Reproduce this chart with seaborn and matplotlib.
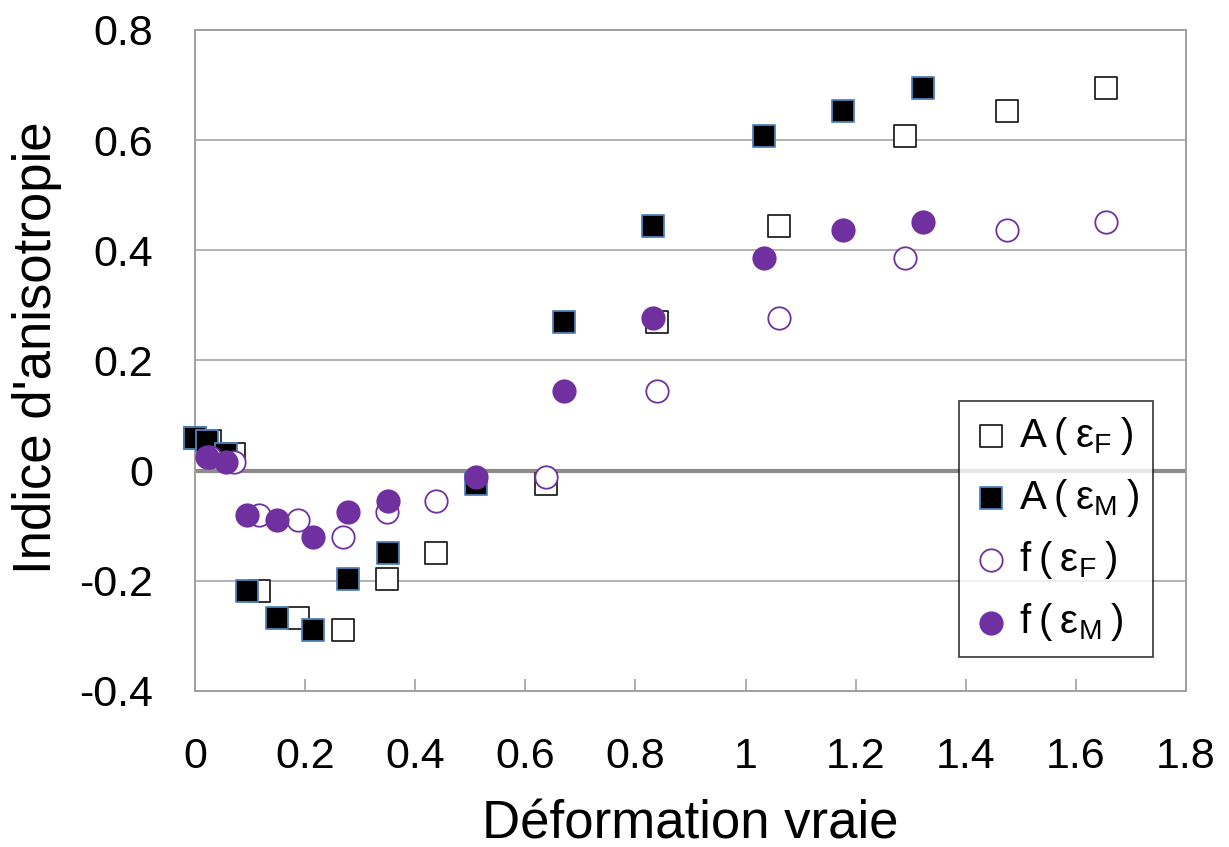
import numpy as np
import pandas as pd
import matplotlib
matplotlib.use("Agg")
import matplotlib.pyplot as plt
import seaborn as sns
from matplotlib.ticker import FuncFormatter

# strain values (true strain) for each sample, two definitions
strain_F = [0.0, 0.027, 0.070, 0.116, 0.187, 0.268, 0.349, 0.438, 0.638, 0.840, 1.060, 1.290, 1.474, 1.655]
strain_M = [0.0, 0.022, 0.056, 0.095, 0.149, 0.215, 0.278, 0.351, 0.511, 0.671, 0.831, 1.034, 1.177, 1.323]

# anisotropy indices
anis_A = [0.060, 0.053, 0.031, -0.219, -0.268, -0.290, -0.197, -0.149, -0.025, 0.269, 0.445, 0.607, 0.653, 0.694]
anis_f = [np.nan, 0.024, 0.015, -0.080, -0.089, -0.120, -0.075, -0.055, -0.012, 0.145, 0.277, 0.386, 0.436, 0.451]

TS = "\u2009"  # thin space, legend text is letter-spaced in the original
labels = [f"A{TS}({TS}ε$_\\mathregular{{F}}${TS})", f"A{TS}({TS}ε$_\\mathregular{{M}}${TS})",
          f"f{TS}({TS}ε$_\\mathregular{{F}}${TS})", f"f{TS}({TS}ε$_\\mathregular{{M}}${TS})"]

x_ticks = [0, 0.2, 0.4, 0.6, 0.8, 1.0, 1.2, 1.4, 1.6, 1.8]
y_ticks = [-0.4, -0.2, 0, 0.2, 0.4, 0.6, 0.8]

PURPLE = "#7030A0"

sns.set_theme(style="white")
plt.rcParams["font.family"] = ["Liberation Sans", "DejaVu Sans"]
plt.rcParams["mathtext.fontset"] = "custom"
plt.rcParams["mathtext.rm"] = "Liberation Sans"
plt.rcParams["text.color"] = "black"
plt.rcParams["axes.labelcolor"] = "black"

df = pd.DataFrame({"eF": strain_F, "eM": strain_M, "A": anis_A, "f": anis_f})

fig = plt.figure(figsize=(12.29, 8.47), dpi=100)
ax = fig.add_axes([0.1587, 0.1842, 0.8063, 0.7804])

ms = 260
common = dict(ax=ax, s=ms, linewidth=1.3, zorder=3, clip_on=False)
sns.scatterplot(data=df, x="eF", y="A", marker="s", color="white",
                edgecolor="#222222", label=labels[0], **common)
sns.scatterplot(data=df, x="eM", y="A", marker="s", color="black",
                edgecolor="#4F81BD", label=labels[1], **common)
sns.scatterplot(data=df, x="eF", y="f", marker="o", color="white",
                edgecolor=PURPLE, label=labels[2], **common)
sns.scatterplot(data=df, x="eM", y="f", marker="o", color=PURPLE,
                edgecolor=PURPLE, label=labels[3], **common)

ax.set_xlim(0, 1.8)
ax.set_ylim(-0.4, 0.8)
ax.set_xticks(x_ticks)
ax.set_yticks(y_ticks)
fmt = FuncFormatter(lambda v, p: f"{v:g}")
ax.xaxis.set_major_formatter(fmt)
ax.yaxis.set_major_formatter(fmt)

ax.yaxis.grid(True, color="#A6A6A6", linewidth=1.2, zorder=0)
ax.xaxis.grid(False)
ax.axhline(0, color="#8C8C8C", linewidth=3, zorder=1)
for sp in ax.spines.values():
    sp.set_color("#A0A0A0")
    sp.set_linewidth(1.4)

ax.tick_params(axis="x", direction="in", length=9, width=1.2, color="#A0A0A0",
               pad=33, labelsize=31, labelcolor="black", bottom=True)
ax.tick_params(axis="y", length=0, pad=30, labelsize=31, labelcolor="black")

ax.set_xlabel("Déformation vraie", fontsize=38, labelpad=16)
ax.set_ylabel("Indice d'anisotropie", fontsize=38)
ax.yaxis.set_label_coords(-0.134, 0.52)

leg = ax.legend(loc="lower right", bbox_to_anchor=(0.967, 0.051), frameon=True,
                fancybox=False, edgecolor="black", fontsize=29, handletextpad=0.25,
                labelspacing=0.5, borderpad=0.35, handlelength=0.9, borderaxespad=0)
leg.get_frame().set_linewidth(1.2)

fig.savefig("out.png", dpi=100)
